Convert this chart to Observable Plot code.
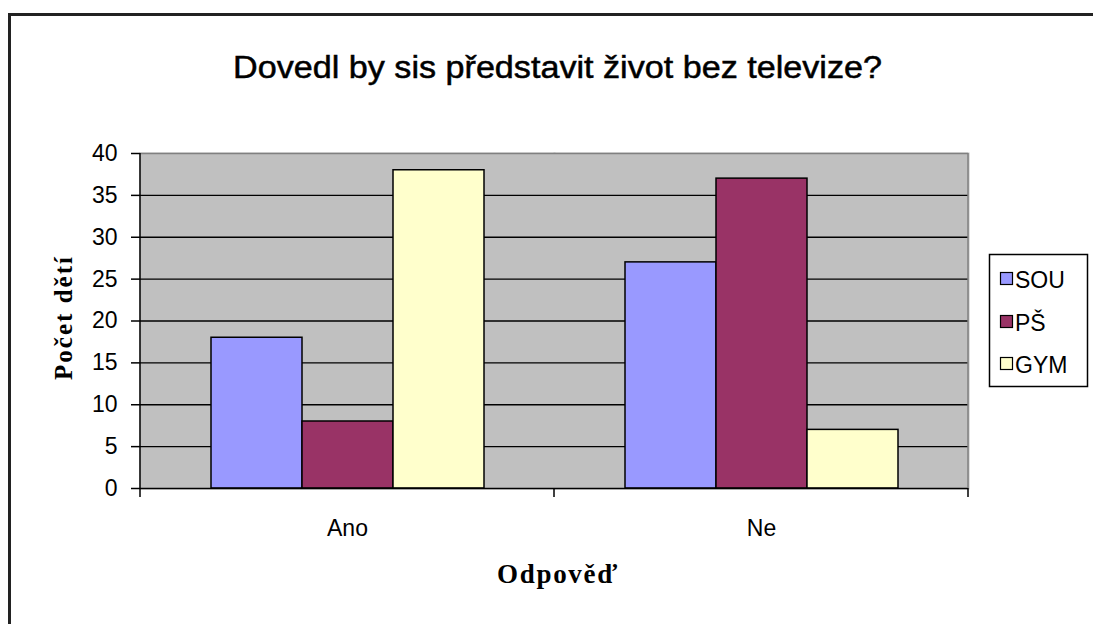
<!DOCTYPE html>
<html>
<head>
<meta charset="utf-8">
<script src="https://cdn.jsdelivr.net/npm/d3@7"></script>
<script src="https://cdn.jsdelivr.net/npm/@observablehq/plot@0.6"></script>
<style>
html, body { margin: 0; padding: 0; background: #fff; }
#wrap { position: relative; width: 1093px; height: 624px; overflow: hidden; background: #fff; }
#wrap > svg { position: absolute; left: 0; top: 0; }
</style>
</head>
<body>
<div id="wrap"></div>
<script>
// ---- data ----
const answers = ["Ano", "Ne"];
const schools = ["SOU", "PŠ", "GYM"];
const souValues = [18, 27];
const psValues = [8, 37];
const gymValues = [38, 7];
const schoolColors = ["#9999FF", "#993366", "#FFFFCC"];
const yTicks = [0, 5, 10, 15, 20, 25, 30, 35, 40];
const titleText = "Dovedl by sis představit život bez televize?";
const yLabelText = "Počet dětí";
const xLabelText = "Odpověď";

const seriesValues = [souValues, psValues, gymValues];
const data = answers.flatMap((a, i) =>
  schools.map((s, j) => ({answer: a, school: s, value: seriesValues[j][i]}))
);

const W = 1093, H = 624;
const sans = "Arial, 'Liberation Sans', sans-serif";
const serif = "'Times New Roman', 'Liberation Serif', serif";

const plot = Plot.plot({
  width: W,
  height: H,
  marginTop: 153,
  marginBottom: 136,
  marginLeft: 140,
  marginRight: 125,
  style: {fontFamily: sans, fontSize: "23px", color: "#000", background: "transparent", overflow: "visible"},
  fx: {domain: answers, padding: 0, label: null},
  x: {domain: schools, paddingInner: 0, paddingOuter: 0.765, axis: null},
  y: {domain: [0, 40], label: null},
  color: {domain: schools, range: schoolColors},
  marks: [
    Plot.frame({fill: "#C0C0C0", stroke: "#C0C0C0", strokeWidth: 2}),
    Plot.gridY(yTicks.filter(d => d > 0 && d < 40), {stroke: "#000", strokeOpacity: 1, strokeWidth: 1.3}),
    Plot.ruleY([40], {stroke: "#808080", strokeWidth: 1.5}),
    Plot.barY(data, {fx: "answer", x: "school", y: "value", fill: "school", stroke: "#000", strokeWidth: 1.5}),
    Plot.ruleY([0], {stroke: "#000", strokeWidth: 1.5}),
    Plot.axisY(yTicks, {tickSize: 9, tickPadding: 14, label: null, fontSize: 23, strokeWidth: 1.5}),
    Plot.axisFx({anchor: "bottom", tickSize: 0, tickPadding: 31, label: null, fontSize: 23})
  ]
});

const wrap = document.getElementById("wrap");
wrap.appendChild(plot);

// extra axis lines and boundary ticks drawn from the library's scales
const fx = plot.scale("fx");
const y = plot.scale("y");
const y0 = y.apply(0), y40 = y.apply(40);
const left = fx.range[0], right = fx.range[1];
const svg = d3.select(plot);
const g = svg.append("g");
g.append("line").attr("x1", right).attr("x2", right).attr("y1", y40).attr("y2", y0)
  .attr("stroke", "#808080").attr("stroke-width", 1.5);
g.append("line").attr("x1", left).attr("x2", left).attr("y1", y40).attr("y2", y0 + 1)
  .attr("stroke", "#000").attr("stroke-width", 1.5);
const edges = answers.map(a => fx.apply(a)).concat([right]);
g.selectAll("line.edge").data(edges).join("line").attr("class", "edge")
  .attr("x1", d => d).attr("x2", d => d).attr("y1", y0).attr("y2", y0 + 9)
  .attr("stroke", "#000").attr("stroke-width", 1.5);

// overlay: outer frame, title, axis titles, legend
const ov = d3.select(wrap).append("svg")
  .attr("width", W).attr("height", H)
  .style("font-family", sans);

ov.append("path").attr("d", `M9.5,${H + 5} V14.5 H${W + 5}`)
  .attr("fill", "none").attr("stroke", "#222").attr("stroke-width", 3);

ov.append("text").attr("x", 233).attr("y", 78)
  .attr("font-size", 31).attr("stroke", "#000").attr("stroke-width", 0.5)
  .attr("textLength", 649).attr("lengthAdjust", "spacingAndGlyphs")
  .text(titleText);

ov.append("text").attr("transform", "translate(72,380) rotate(-90)")
  .attr("font-family", serif).attr("font-weight", "bold").attr("font-size", 25)
  .attr("textLength", 123).attr("lengthAdjust", "spacing")
  .text(yLabelText);

ov.append("text").attr("x", 497).attr("y", 583)
  .attr("font-family", serif).attr("font-weight", "bold").attr("font-size", 27)
  .attr("textLength", 120).attr("lengthAdjust", "spacing")
  .text(xLabelText);

const lg = ov.append("g");
lg.append("rect").attr("x", 989.5).attr("y", 254.5).attr("width", 98).attr("height", 132)
  .attr("fill", "#fff").attr("stroke", "#000").attr("stroke-width", 1.5);
const rowY = [279, 322, 364];
schools.forEach((s, i) => {
  lg.append("rect").attr("x", 1000.5).attr("y", rowY[i] - 6.5).attr("width", 12).attr("height", 12)
    .attr("fill", schoolColors[i]).attr("stroke", "#000").attr("stroke-width", 1.2);
  lg.append("text").attr("x", 1015).attr("y", rowY[i] + 8.5).attr("font-size", 23).text(s);
});
</script>
</body>
</html>
